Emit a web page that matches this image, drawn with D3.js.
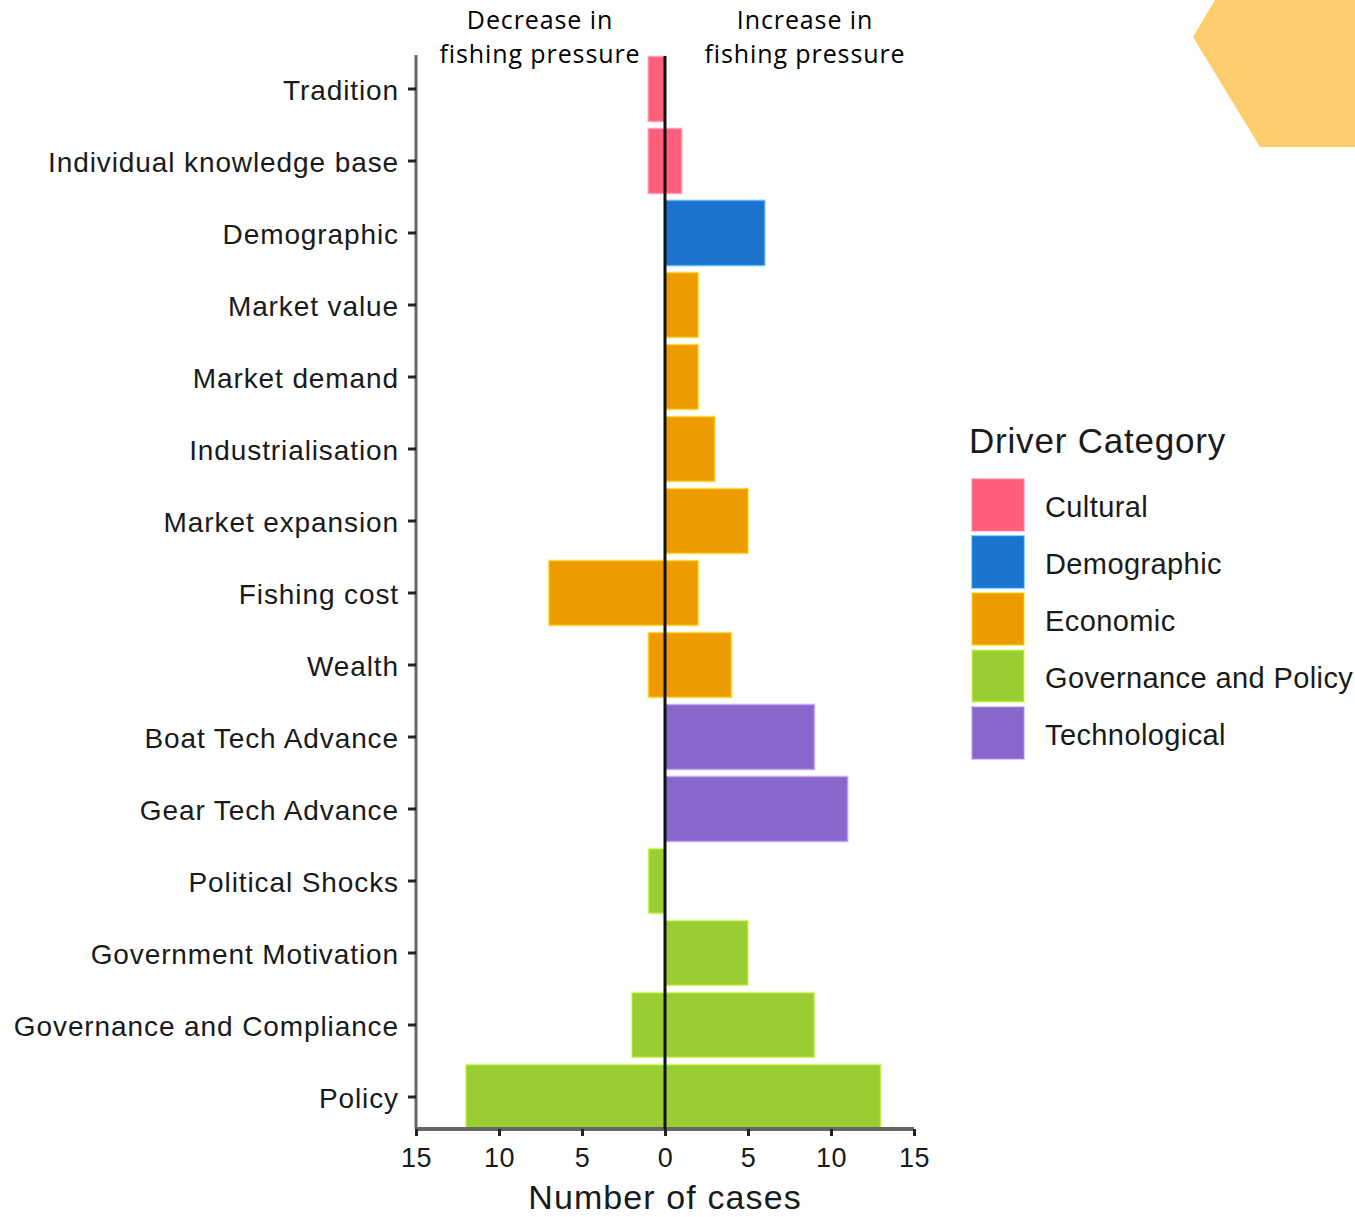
<!DOCTYPE html>
<html>
<head>
<meta charset="utf-8">
<script src="https://cdn.jsdelivr.net/npm/d3@7"></script>
<style>
  html, body { margin: 0; padding: 0; background: #fff; }
  svg { display: block; }
</style>
</head>
<body>
<svg id="chart" width="1355" height="1217"></svg>
<script>
const categories = ["Tradition", "Individual knowledge base", "Demographic", "Market value", "Market demand",
  "Industrialisation", "Market expansion", "Fishing cost", "Wealth", "Boat Tech Advance",
  "Gear Tech Advance", "Political Shocks", "Government Motivation", "Governance and Compliance", "Policy"];
const categoryGroup = ["Cultural", "Cultural", "Demographic", "Economic", "Economic",
  "Economic", "Economic", "Economic", "Economic", "Technological",
  "Technological", "Governance and Policy", "Governance and Policy", "Governance and Policy", "Governance and Policy"];
const decreaseCases = [1, 1, 0, 0, 0, 0, 0, 7, 1, 0, 0, 1, 0, 2, 12];
const increaseCases = [0, 1, 6, 2, 2, 3, 5, 2, 4, 9, 11, 0, 5, 9, 13];
const groups = ["Cultural", "Demographic", "Economic", "Governance and Policy", "Technological"];
const groupColors = ["#FF5F7B", "#1A74CD", "#EE9B00", "#9ACD32", "#8768CA"];
const xTicks = [-15, -10, -5, 0, 5, 10, 15];

const svg = d3.select("#chart");
const labelFont = "'Liberation Sans', Arial, sans-serif";
const annoFont = "'Open Sans', 'Noto Sans', sans-serif";

// decorative hexagon corner
svg.append("polygon")
  .attr("points", "1215,0 1193,37 1260,147 1355,147 1355,0")
  .attr("fill", "#FDCD6E");

const x = d3.scaleLinear().domain([-15, 15]).range([416, 914]);
const y = d3.scaleBand().domain(categories).range([53, 1133]).paddingInner(0.1).paddingOuter(0.05);
const color = d3.scaleOrdinal().domain(groups).range(groupColors);

// bars
const rows = categories.map((c, i) => ({c, g: categoryGroup[i], neg: decreaseCases[i], pos: increaseCases[i]}));
const bars = svg.append("g");
rows.forEach(r => {
  if (r.neg > 0) {
    bars.append("rect")
      .attr("x", x(-r.neg)).attr("y", y(r.c))
      .attr("width", x(0) - x(-r.neg)).attr("height", y.bandwidth())
      .attr("fill", color(r.g))
      .attr("stroke", d3.color(color(r.g)).brighter(0.9)).attr("stroke-opacity", 0.5).attr("stroke-width", 2);
  }
  if (r.pos > 0) {
    bars.append("rect")
      .attr("x", x(0)).attr("y", y(r.c))
      .attr("width", x(r.pos) - x(0)).attr("height", y.bandwidth())
      .attr("fill", color(r.g))
      .attr("stroke", d3.color(color(r.g)).brighter(0.9)).attr("stroke-opacity", 0.5).attr("stroke-width", 2);
  }
});

// y axis
const yAxis = svg.append("g").attr("transform", "translate(416,0)")
  .call(d3.axisLeft(y).tickSize(8).tickPadding(9));
yAxis.select(".domain").attr("stroke", "#666").attr("stroke-width", 3)
  .attr("d", `M0,55V1129`);
yAxis.selectAll(".tick line").attr("stroke", "#222").attr("stroke-width", 3);
yAxis.selectAll(".tick text").attr("font-family", labelFont).attr("font-size", 28)
  .attr("letter-spacing", "0.9px").attr("dy", "0.4em").attr("fill", "#1a1a1a");

// x axis
const xAxis = svg.append("g").attr("transform", "translate(0,1129)")
  .call(d3.axisBottom(x).tickValues(xTicks).tickFormat(d => Math.abs(d)).tickSize(7).tickPadding(12));
xAxis.select(".domain").attr("stroke", "#666").attr("stroke-width", 4).attr("d", "M416,0H914");
xAxis.selectAll(".tick line").attr("stroke", "#222").attr("stroke-width", 3);
xAxis.selectAll(".tick text").attr("font-family", labelFont).attr("font-size", 27)
  .attr("letter-spacing", "0.5px").attr("fill", "#1a1a1a");

// zero line
svg.append("line").attr("x1", x(0)).attr("x2", x(0)).attr("y1", 56).attr("y2", 1129)
  .attr("stroke", "#111").attr("stroke-width", 3);

// axis title
svg.append("text").attr("x", x(0)).attr("y", 1209).attr("text-anchor", "middle")
  .attr("font-family", labelFont).attr("font-size", 34).attr("letter-spacing", "1.1px")
  .attr("fill", "#1a1a1a").text("Number of cases");

// annotations
[["Decrease in", "fishing pressure", 540], ["Increase in", "fishing pressure", 805]].forEach(a => {
  [a[0], a[1]].forEach((line, k) => {
    svg.append("text").attr("text-anchor", "middle").attr("font-family", annoFont)
      .attr("font-size", 25).attr("letter-spacing", "0.9px").attr("fill", "#000")
      .attr("x", a[2]).attr("y", 29 + k * 34).text(line);
  });
});

// legend
const lg = svg.append("g");
lg.append("text").attr("x", 969).attr("y", 453).attr("font-family", labelFont).attr("font-size", 35)
  .attr("letter-spacing", "0.8px").attr("fill", "#1a1a1a").text("Driver Category");
groups.forEach((g, i) => {
  const yy = 479 + i * 57;
  lg.append("rect").attr("x", 972).attr("y", yy).attr("width", 52).attr("height", 52)
    .attr("fill", color(g)).attr("stroke", d3.color(color(g)).brighter(0.9)).attr("stroke-opacity", 0.5).attr("stroke-width", 2);
  lg.append("text").attr("x", 1045).attr("y", yy + 28).attr("dy", "0.35em")
    .attr("font-family", labelFont).attr("font-size", 29).attr("letter-spacing", "0.4px")
    .attr("fill", "#1a1a1a").text(g);
});
</script>
</body>
</html>
